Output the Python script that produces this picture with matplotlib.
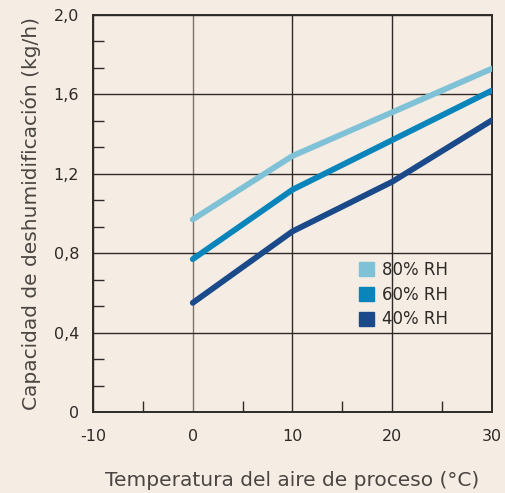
import numpy as np
import matplotlib.pyplot as plt
from matplotlib.patches import Patch
from matplotlib.ticker import MultipleLocator

temp = [0, 10, 20, 30]
rh80 = [0.97, 1.29, 1.51, 1.73]
rh60 = [0.77, 1.12, 1.37, 1.62]
rh40 = [0.55, 0.91, 1.16, 1.47]
labels = ["80% RH", "60% RH", "40% RH"]
colors = ["#7fc1d6", "#0a85bc", "#1a4a8a"]

bg = "#f5ede3"
ink = "#2e2a28"
plt.rcParams['font.family'] = ['DejaVu Sans']
plt.rcParams['axes.unicode_minus'] = False

fig = plt.figure(figsize=(5.06, 4.93), dpi=100, facecolor=bg)
ax = fig.add_axes([93/506, 81/493, 399/506, 397/493], facecolor=bg)

for y, c in zip([rh80, rh60, rh40], colors):
    ax.plot(temp, y, color=c, lw=4.2, solid_capstyle="round", zorder=3)

ax.set_xlim(-10, 30)
ax.set_ylim(0, 2.0)
ax.xaxis.set_minor_locator(MultipleLocator(5))
ax.yaxis.set_minor_locator(MultipleLocator(0.4/3))
ax.set_xticks([-10, 0, 10, 20, 30])
ax.set_yticks([0, 0.4, 0.8, 1.2, 1.6, 2.0])
ax.set_yticklabels(["0", "0,4", "0,8", "1,2", "1,6", "2,0"])

ax.grid(which="major", color=ink, lw=1.0, zorder=1)
ax.get_xgridlines()[1].set_color("#7d716a")
for s in ax.spines.values():
    s.set_color(ink)
    s.set_linewidth(1.4)

ax.tick_params(which="major", length=0, pad=10, labelsize=11.5, colors=ink)
ax.tick_params(which="minor", direction="in", length=8, width=1.0, color=ink)
ax.tick_params(axis="x", which="major", pad=12)

ax.set_xlabel("Temperatura del aire de proceso (°C)", fontsize=14.5, color="#4a4542", labelpad=20)
ax.set_ylabel("Capacidad de deshumidificación (kg/h)", fontsize=14.5, color="#4a4542", labelpad=9)

handles = [Patch(color=c) for c in colors]
ax.legend(handles, labels, loc="upper left", bbox_to_anchor=(0.667, 0.38), frameon=False,
          fontsize=12, handlelength=0.9, handleheight=0.9, handletextpad=0.5,
          labelspacing=0.4, borderpad=0, borderaxespad=0, labelcolor=ink)

fig.savefig("out.png", dpi=100, facecolor=bg)
plt.close()
